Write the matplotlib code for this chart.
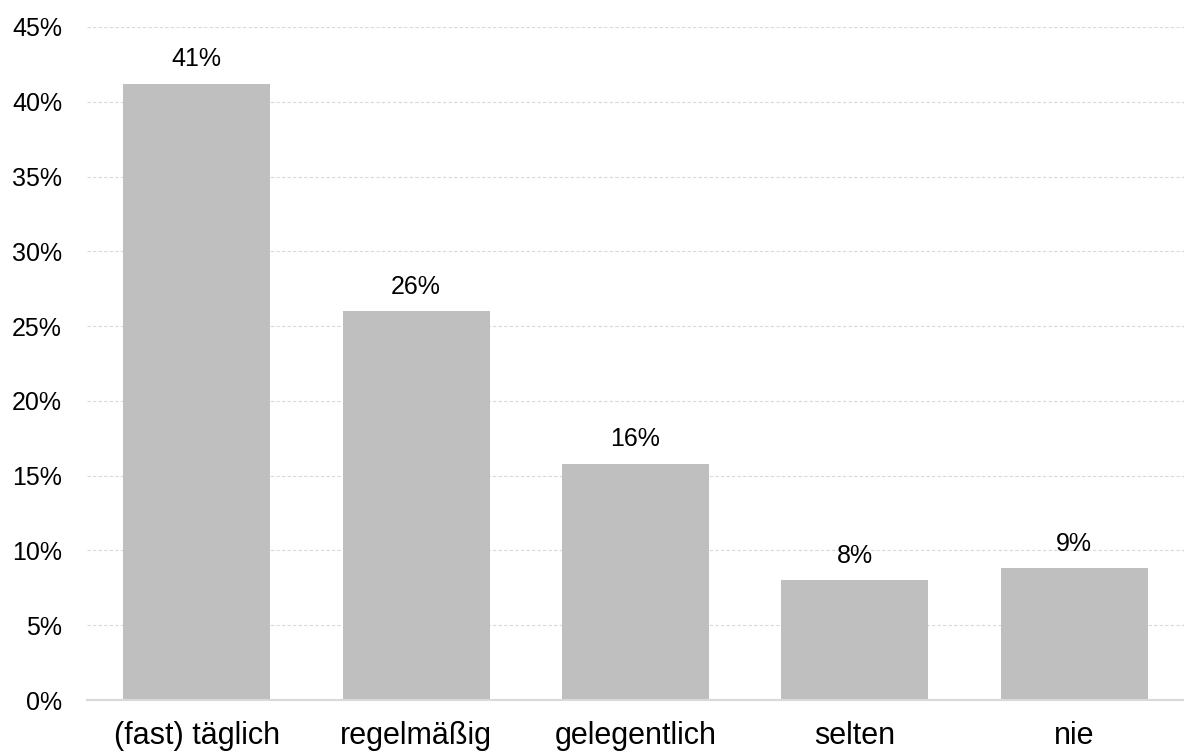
import matplotlib
matplotlib.use("Agg")
from matplotlib import pyplot as plt
from matplotlib.ticker import MultipleLocator, FuncFormatter

categories = ["(fast) täglich", "regelmäßig", "gelegentlich", "selten", "nie"]
values = [41.2, 26.0, 15.8, 8.0, 8.8]
value_labels = ["41%", "26%", "16%", "8%", "9%"]

plt.rcParams['font.family'] = ['Liberation Sans', 'DejaVu Sans']

fig = plt.figure(figsize=(11.84, 7.54), dpi=100)
ax = fig.add_axes([0.0735, 0.0716, 0.9265, 0.8926])

x = range(len(categories))
bars = ax.bar(x, values, width=0.67, color='#bfbfbf', zorder=2)

# value labels above the bars
for bar, label in zip(bars, value_labels):
    ax.annotate(label, (bar.get_x() + bar.get_width() / 2, bar.get_height()),
                xytext=(0, 9), textcoords='offset points',
                ha='center', va='bottom', fontsize=18, color='#000000')

ax.set_xlim(-0.5, len(categories) - 0.5)
ax.set_ylim(0, 45)
ax.yaxis.set_major_locator(MultipleLocator(5))
ax.yaxis.set_major_formatter(FuncFormatter(lambda v, _: f"{v:.0f}%"))
ax.set_xticks(list(x))
ax.set_xticklabels(categories)

ax.grid(axis='y', linestyle=(0, (3, 2)), color='#d9d9d9', linewidth=0.8, zorder=0)
ax.set_axisbelow(True)

for side in ['top', 'right', 'left']:
    ax.spines[side].set_visible(False)
ax.spines['bottom'].set_color('#d9d9d9')
ax.spines['bottom'].set_linewidth(1.5)
ax.spines['bottom'].set_zorder(3)

ax.tick_params(axis='y', length=0, pad=18, labelsize=18, labelcolor='#000000')
ax.tick_params(axis='x', length=0, pad=15, labelsize=22, labelcolor='#000000')

fig.savefig("out.png", dpi=100)
